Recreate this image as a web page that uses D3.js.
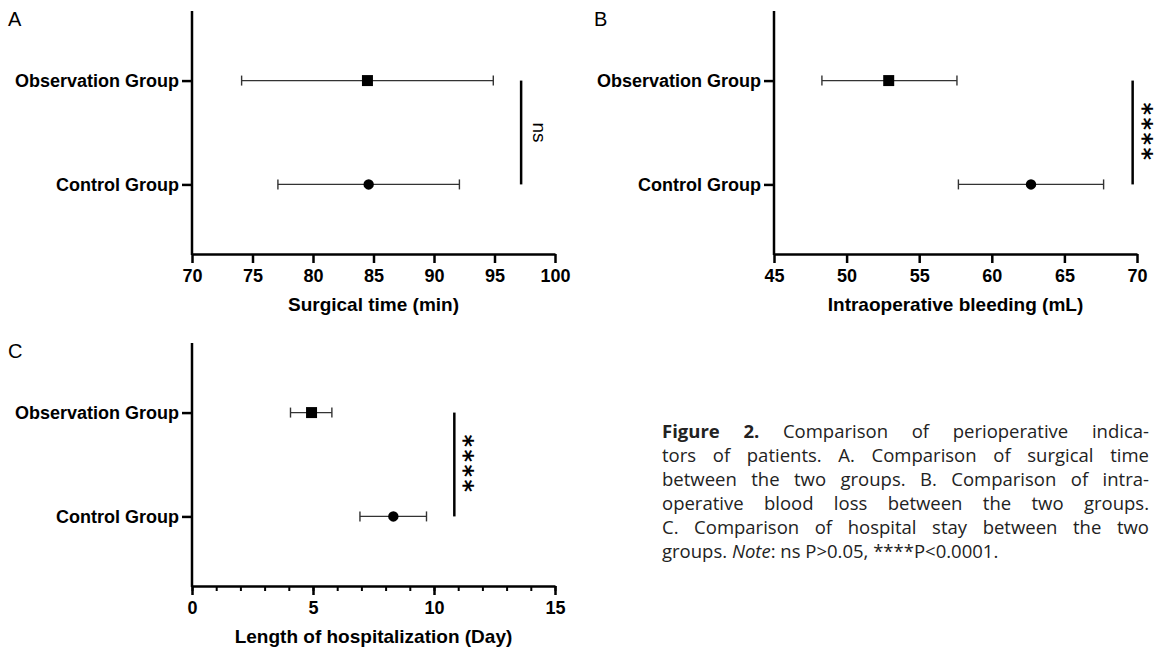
<!DOCTYPE html>
<html>
<head>
<meta charset="utf-8">
<script src="https://cdn.jsdelivr.net/npm/d3@7"></script>
<style>
  body { margin: 0; background: #fff; }
  #wrap { position: relative; width: 1159px; height: 653px; }
  #caption {
    position: absolute; left: 662px; top: 419px; width: 487px;
    font-family: "Open Sans", sans-serif; font-size: 18.5px; line-height: 24px; color: #222;
  }
  #caption div { text-align: justify; text-align-last: justify; white-space: nowrap; }
  #caption div.last { text-align-last: left; }
</style>
</head>
<body>
<div id="wrap">
  <svg id="chart" width="1159" height="653"></svg>
  <div id="caption"></div>
</div>
<script>
// Data
const groups = ["Observation Group", "Control Group"];

const surgicalMean = [84.5, 84.6];
const surgicalLow = [74.1, 77.1];
const surgicalHigh = [94.9, 92.1];

const bleedingMean = [52.9, 62.7];
const bleedingLow = [48.3, 57.7];
const bleedingHigh = [57.6, 67.7];

const stayMean = [4.94, 8.32];
const stayLow = [4.07, 6.94];
const stayHigh = [5.78, 9.69];

const surgicalTicks = [70, 75, 80, 85, 90, 95, 100];
const bleedingTicks = [45, 50, 55, 60, 65, 70];
const stayTicks = [0, 5, 10, 15];
const stayMinor = d3.range(0, 16, 1);

const captionLines = [
  "<b>Figure 2.</b> Comparison of perioperative indica-",
  "tors of patients. A. Comparison of surgical time",
  "between the two groups. B. Comparison of intra-",
  "operative blood loss between the two groups.",
  "C. Comparison of hospital stay between the two",
  "groups. <i>Note</i>: ns P&gt;0.05, ****P&lt;0.0001."
];

const svg = d3.select("#chart");
const font = "'Liberation Sans', Arial, sans-serif";

function drawPanel(p) {
  const g = svg.append("g");

  const x = d3.scaleLinear().domain(p.domain).range([p.left, p.right]);
  const y = d3.scalePoint().domain(groups).range([p.top, p.bottom]).padding(0.67);

  // minor ticks first (C only)
  if (p.minor) {
    const mg = g.append("g")
      .attr("transform", `translate(0,${p.bottom})`)
      .call(d3.axisBottom(x).tickValues(p.minor).tickSize(5).tickFormat("").tickSizeOuter(0));
    mg.select(".domain").remove();
    mg.selectAll("line").attr("stroke", "#000").attr("stroke-width", 2);
  }

  const xa = g.append("g")
    .attr("transform", `translate(0,${p.bottom})`)
    .call(d3.axisBottom(x).tickValues(p.ticks).tickSize(9).tickSizeOuter(0).tickPadding(6));
  xa.select(".domain").attr("stroke", "#000").attr("stroke-width", 2.5);
  xa.selectAll(".tick line").attr("stroke", "#000").attr("stroke-width", 2.5);
  xa.selectAll(".tick text")
    .attr("fill", "#000")
    .style("font-family", font).style("font-weight", "bold").style("font-size", "18px");

  const ya = g.append("g")
    .attr("transform", `translate(${p.left},0)`)
    .call(d3.axisLeft(y).tickSize(10).tickSizeOuter(0).tickPadding(3));
  ya.select(".domain").attr("stroke", "#000").attr("stroke-width", 2.5)
    .attr("d", `M0,${p.top}V${p.bottom + 1}`);
  ya.selectAll(".tick line").attr("stroke", "#000").attr("stroke-width", 2.5);
  ya.selectAll(".tick text")
    .attr("fill", "#000")
    .style("font-family", font).style("font-weight", "bold").style("font-size", "18px");

  // error bars
  groups.forEach((grp, i) => {
    const cy = y(grp);
    g.append("line")
      .attr("x1", x(p.low[i])).attr("x2", x(p.high[i]))
      .attr("y1", cy).attr("y2", cy)
      .attr("stroke", "#333").attr("stroke-width", 1.4);
    [p.low[i], p.high[i]].forEach(v => {
      g.append("line")
        .attr("x1", x(v)).attr("x2", x(v))
        .attr("y1", cy - 5).attr("y2", cy + 5)
        .attr("stroke", "#333").attr("stroke-width", 1.4);
    });
    const sym = i === 0 ? d3.symbol().type(d3.symbolSquare).size(121)
                        : d3.symbol().type(d3.symbolCircle).size(85);
    g.append("path")
      .attr("d", sym())
      .attr("transform", `translate(${x(p.mean[i])},${cy})`)
      .attr("fill", "#000");
  });

  // significance bar
  const sx = x(p.sigAt);
  g.append("line")
    .attr("x1", sx).attr("x2", sx)
    .attr("y1", y(groups[0])).attr("y2", y(groups[1]))
    .attr("stroke", "#000").attr("stroke-width", 2.5);
  const midY = (y(groups[0]) + y(groups[1])) / 2;
  const st = g.append("text")
    .attr("transform", `translate(${sx + p.sigDx},${midY}) rotate(90)`)
    .attr("text-anchor", "middle")
    .text(p.sigLabel);
  if (p.sigLabel === "ns") {
    st.style("font-family", font).style("font-size", "19px");
  } else {
    st.style("font-family", "'DejaVu Sans', sans-serif")
      .style("font-size", "24px").style("font-weight", "bold").style("letter-spacing", "2.5px");
  }

  // axis title
  g.append("text")
    .attr("x", (p.left + p.right) / 2)
    .attr("y", p.bottom + 52)
    .attr("text-anchor", "middle")
    .attr("dominant-baseline", "middle")
    .style("font-family", font).style("font-weight", "bold").style("font-size", "19px")
    .text(p.title);

  // panel letter
  g.append("text")
    .attr("x", p.labelX).attr("y", p.top + 15)
    .style("font-family", font).style("font-size", "20px")
    .text(p.letter);
}

drawPanel({
  letter: "A", labelX: 8,
  left: 192, right: 555, top: 11, bottom: 254,
  domain: [70, 100], ticks: surgicalTicks,
  mean: surgicalMean, low: surgicalLow, high: surgicalHigh,
  sigAt: 97.2, sigLabel: "ns", sigDx: 12,
  title: "Surgical time (min)"
});

drawPanel({
  letter: "B", labelX: 594,
  left: 774, right: 1137, top: 11, bottom: 254,
  domain: [45, 70], ticks: bleedingTicks,
  mean: bleedingMean, low: bleedingLow, high: bleedingHigh,
  sigAt: 69.7, sigLabel: "****", sigDx: 2,
  title: "Intraoperative bleeding (mL)"
});

drawPanel({
  letter: "C", labelX: 8,
  left: 192, right: 555, top: 343, bottom: 586,
  domain: [0, 15], ticks: stayTicks, minor: stayMinor,
  mean: stayMean, low: stayLow, high: stayHigh,
  sigAt: 10.84, sigLabel: "****", sigDx: 2,
  title: "Length of hospitalization (Day)"
});

d3.select("#caption").selectAll("div")
  .data(captionLines)
  .enter()
  .append("div")
  .attr("class", (d, i) => i === captionLines.length - 1 ? "last" : null)
  .html(d => d);
</script>
</body>
</html>
